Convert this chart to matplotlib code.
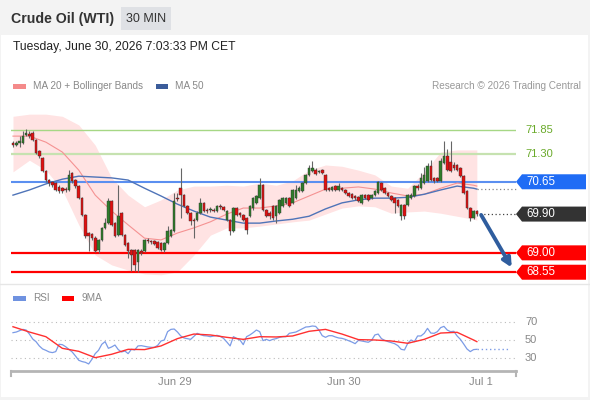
# Crude Oil (WTI) 30 min chart with Bollinger bands and RSI
import numpy as np
import matplotlib.pyplot as plt
import matplotlib.transforms as mtransforms
from matplotlib.patches import Rectangle, Polygon
from matplotlib.lines import Line2D

plt.rcParams['font.family'] = ['Liberation Sans', 'DejaVu Sans']

# candles (30 min)
opens = [71.55, 71.50, 71.55, 71.55, 71.73, 71.76, 71.78, 71.62, 71.36, 71.20,
         70.90, 70.69, 70.64, 70.62, 70.53, 70.50, 70.48, 70.46, 70.85, 70.69,
         70.55, 70.27, 69.88, 69.46, 69.44, 69.34, 69.07, 69.30, 69.58, 69.69,
         70.20, 69.69, 69.41, 69.92, 69.41, 69.23, 69.07, 69.07, 68.79, 69.04,
         69.04, 69.30, 69.27, 69.27, 69.25, 69.23, 69.07, 69.23, 69.39, 69.51,
         70.27, 70.50, 70.34, 70.09, 69.92, 69.76, 69.76, 69.92, 70.16, 69.99,
         69.99, 69.99, 69.97, 70.09, 70.07, 69.76, 69.76, 69.51, 70.04, 69.92,
         69.88, 69.81, 69.85, 70.04, 70.16, 70.27, 70.57, 69.99, 69.92, 70.09,
         69.85, 69.92, 70.09, 70.16, 70.27, 70.16, 70.27, 70.43, 70.43, 70.62,
         70.81, 70.90, 70.92, 70.88, 70.92, 70.81, 70.50, 70.46, 70.55, 70.46,
         70.50, 70.46, 70.39, 70.36, 70.32, 70.29, 70.16, 70.34, 70.34, 70.27,
         70.34, 70.39, 70.62, 70.50, 70.39, 70.32, 70.27, 70.23, 69.85, 70.11,
         70.11, 70.27, 70.32, 70.55, 70.50, 70.62, 70.67, 71.01, 70.74, 70.74,
         70.67, 71.08, 71.25, 71.11, 71.04, 71.04, 70.97, 70.78, 70.43, 70.04,
         69.81, 69.97]
highs = [71.59, 71.59, 71.71, 71.83, 71.87, 71.83, 71.83, 71.64, 71.39, 71.22,
         70.92, 70.71, 70.67, 70.64, 70.57, 70.53, 70.53, 70.92, 70.88, 70.71,
         70.57, 70.29, 69.90, 69.48, 69.46, 69.39, 69.32, 69.60, 69.81, 70.27,
         70.23, 69.72, 70.57, 69.95, 69.44, 69.25, 69.09, 69.09, 69.09, 69.09,
         69.32, 69.34, 69.30, 69.30, 69.27, 69.25, 69.25, 69.62, 69.55, 70.39,
         70.39, 70.97, 70.36, 70.11, 69.95, 69.81, 69.97, 70.27, 70.18, 70.04,
         70.07, 70.04, 70.11, 70.13, 70.09, 69.99, 69.78, 70.07, 70.07, 69.95,
         69.90, 69.83, 70.11, 70.29, 70.34, 70.74, 70.60, 70.02, 69.97, 70.11,
         70.11, 70.25, 70.29, 70.29, 70.29, 70.48, 70.57, 70.55, 70.64, 70.83,
         71.04, 71.13, 70.97, 70.92, 70.94, 70.83, 70.53, 70.55, 70.57, 70.62,
         70.53, 70.48, 70.41, 70.39, 70.34, 70.32, 70.36, 70.36, 70.36, 70.36,
         70.46, 70.67, 70.64, 70.53, 70.41, 70.34, 70.29, 70.25, 70.13, 70.13,
         70.36, 70.39, 70.57, 70.60, 70.85, 70.99, 71.08, 71.15, 70.76, 70.76,
         71.20, 71.59, 71.41, 71.59, 71.11, 71.06, 70.99, 70.81, 70.46, 70.07,
         69.99, 69.99]
lows = [71.46, 71.48, 71.46, 71.52, 71.71, 71.66, 71.59, 71.29, 71.20, 70.88,
        70.64, 70.55, 70.53, 70.43, 70.39, 70.39, 70.41, 70.43, 70.62, 70.50,
        70.25, 69.85, 69.34, 69.04, 69.30, 69.02, 69.00, 69.27, 69.55, 69.67,
        69.62, 69.37, 69.39, 69.39, 69.16, 68.88, 68.58, 68.58, 68.56, 68.95,
        69.02, 69.23, 69.21, 69.18, 69.09, 69.04, 69.02, 69.21, 69.37, 69.48,
        70.20, 69.81, 70.07, 69.90, 69.65, 69.34, 69.74, 69.90, 69.95, 69.92,
        69.95, 69.95, 69.95, 70.02, 69.97, 69.74, 69.41, 69.48, 69.85, 69.83,
        69.74, 69.44, 69.83, 69.99, 70.13, 70.25, 69.97, 69.83, 69.78, 69.76,
        69.69, 69.90, 70.07, 70.13, 70.07, 70.13, 70.25, 70.41, 70.41, 70.60,
        70.78, 70.88, 70.81, 70.85, 70.83, 70.43, 70.43, 70.43, 70.43, 70.43,
        70.43, 70.36, 70.29, 70.25, 70.23, 70.18, 70.13, 70.25, 70.20, 70.25,
        70.32, 70.36, 70.43, 70.36, 70.29, 70.20, 69.92, 70.07, 69.76, 69.78,
        70.09, 70.25, 70.29, 70.46, 70.48, 70.60, 70.64, 70.67, 70.62, 70.64,
        70.64, 71.06, 70.90, 70.88, 70.92, 70.90, 70.76, 70.36, 70.02, 69.74,
        69.78, 69.85]
closes = [71.50, 71.55, 71.59, 71.71, 71.78, 71.71, 71.62, 71.32, 71.25, 70.90,
          70.69, 70.62, 70.57, 70.46, 70.43, 70.43, 70.46, 70.81, 70.67, 70.55,
          70.27, 69.88, 69.39, 69.39, 69.34, 69.04, 69.30, 69.58, 69.69, 70.20,
          69.65, 69.39, 69.85, 69.41, 69.18, 69.04, 68.95, 68.72, 69.07, 69.00,
          69.30, 69.27, 69.25, 69.21, 69.11, 69.07, 69.23, 69.51, 69.53, 70.20,
          70.25, 70.34, 70.09, 69.92, 69.74, 69.74, 69.92, 70.16, 69.97, 69.97,
          70.02, 69.98, 70.09, 70.07, 69.99, 69.97, 69.51, 70.04, 69.88, 69.88,
          69.76, 69.53, 70.09, 70.27, 70.32, 70.57, 69.99, 69.85, 69.85, 69.81,
          70.09, 70.23, 70.27, 70.27, 70.09, 70.46, 70.46, 70.50, 70.62, 70.81,
          70.97, 70.97, 70.83, 70.90, 70.85, 70.46, 70.46, 70.53, 70.46, 70.55,
          70.46, 70.39, 70.32, 70.27, 70.27, 70.20, 70.34, 70.27, 70.23, 70.34,
          70.43, 70.64, 70.46, 70.39, 70.32, 70.23, 70.16, 70.09, 70.11, 69.85,
          70.34, 70.34, 70.55, 70.50, 70.74, 70.81, 71.01, 70.69, 70.67, 70.67,
          71.13, 71.25, 70.92, 70.90, 70.97, 70.92, 70.78, 70.39, 70.04, 69.81,
          69.97, 69.90]

# indicators, one value every 5 candles
ind_idx = [0, 5, 10, 15, 20, 25, 30, 35, 40, 45, 50, 55, 60, 65, 70, 75, 80, 85,
           90, 95, 100, 105, 110, 115, 120, 125, 130, 135, 140, 141]
ma20 = [71.71, 71.71, 71.57, 71.34, 70.92, 70.34, 69.97, 69.65, 69.34, 69.30,
        69.46, 69.58, 69.72, 69.90, 70.04, 70.04, 70.09, 70.16, 70.32, 70.48,
        70.50, 70.53, 70.48, 70.39, 70.32, 70.36, 70.50, 70.62, 70.57, 70.55]
bb_upper = [72.17, 72.22, 72.22, 72.17, 71.97, 71.50, 70.74, 70.34, 70.07, 70.23,
            70.46, 70.55, 70.55, 70.57, 70.55, 70.62, 70.57, 70.67, 70.92, 71.04,
            71.01, 70.92, 70.81, 70.55, 70.50, 70.88, 71.34, 71.39, 71.39, 71.39]
bb_lower = [70.88, 71.15, 70.92, 70.46, 69.65, 68.95, 68.72, 68.60, 68.51, 68.49,
            68.56, 68.95, 69.41, 69.58, 69.58, 69.62, 69.67, 69.72, 69.76, 69.90,
            70.04, 70.09, 70.07, 69.92, 69.95, 69.97, 69.92, 69.85, 69.78, 69.76]
ma50 = [70.34, 70.46, 70.60, 70.71, 70.78, 70.76, 70.74, 70.69, 70.50, 70.32,
        70.13, 69.97, 69.83, 69.76, 69.69, 69.69, 69.74, 69.78, 69.85, 70.02,
        70.16, 70.23, 70.27, 70.27, 70.29, 70.36, 70.46, 70.55, 70.50, 70.48]

# RSI per candle
rsi = [58.0, 58.7, 60.2, 61.6, 60.9, 56.5, 51.1, 48.2, 43.5, 40.2,
       38.7, 36.9, 36.2, 37.3, 45.3, 44.9, 42.7, 39.8, 36.9, 32.5,
       27.8, 26.4, 25.6, 23.8, 28.9, 35.1, 38.7, 45.3, 48.2, 40.9,
       42.4, 44.5, 39.5, 36.9, 38.0, 35.1, 39.8, 39.1, 43.5, 43.8,
       43.1, 42.4, 42.0, 42.0, 44.2, 48.9, 50.0, 59.1, 61.6, 62.0,
       58.7, 54.4, 52.2, 51.5, 50.7, 54.0, 57.3, 55.8, 54.7, 54.4,
       53.6, 54.4, 55.1, 54.0, 51.8, 47.8, 43.5, 53.6, 51.8, 50.0,
       44.9, 53.6, 55.5, 58.0, 60.9, 59.1, 49.3, 50.7, 49.3, 50.7,
       51.5, 52.9, 53.6, 53.6, 57.3, 58.0, 58.7, 60.5, 62.4, 64.2,
       64.5, 65.3, 64.9, 60.9, 54.7, 52.9, 54.7, 54.7, 53.3, 52.2,
       51.8, 50.7, 49.3, 47.8, 46.0, 49.6, 48.9, 48.2, 47.5, 49.6,
       55.5, 56.5, 51.5, 49.6, 48.2, 47.1, 46.0, 43.8, 39.8, 39.1,
       46.4, 50.0, 48.2, 54.4, 54.4, 57.3, 62.7, 57.6, 57.3, 59.1,
       63.5, 64.9, 60.9, 59.1, 59.5, 54.4, 50.7, 45.6, 40.2, 37.3,
       39.5, 39.8]
rsi_ma9 = [64.5, 58.7, 53.6, 40.9, 37.6, 30.7, 34.4, 39.8, 39.5, 43.5,
           51.5, 56.5, 55.5, 52.9, 50.7, 53.6, 53.3, 54.4, 59.5, 61.6,
           56.5, 50.4, 50.0, 48.9, 46.4, 50.7, 57.6, 58.4, 50.0, 48.2]

# levels
resist = [71.85, 71.30]
pivot = 70.65
supports = [69.00, 68.55]
last_price = 69.90
day_ticks = [49.2, 100.6, 142.2]
day_labels = ['Jun 29', 'Jun 30', 'Jul 1']

W, H = 590, 400


def fx(px):
    return px / W


def fy(py):
    return 1 - py / H


fig = plt.figure(figsize=(W / 100, H / 100), dpi=100)
fig.patch.set_facecolor('#f3f3f3')
fig.add_artist(Rectangle((fx(1), fy(397)), 587 / W, 362 / H, transform=fig.transFigure,
                         facecolor='white', edgecolor='none', zorder=0))
fig.add_artist(Line2D([0, 1], [fy(284), fy(284)], color='#e6e6e6', lw=1))

# header
fig.text(fx(11), fy(19), 'Crude Oil (WTI)', fontsize=10.2, weight='bold', color='#333333', va='center')
fig.add_artist(Rectangle((fx(121), fy(30)), 50 / W, 23 / H, transform=fig.transFigure,
                         facecolor='#dfe1e5', edgecolor='none'))
fig.text(fx(146), fy(19), '30 MIN', fontsize=9, color='#333333', ha='center', va='center')
fig.text(fx(13), fy(47), 'Tuesday, June 30, 2026 7:03:33 PM CET', fontsize=8.7, color='#222222', va='center')

# legend row
fig.add_artist(Rectangle((fx(13), fy(88.5)), 13 / W, 5 / H, transform=fig.transFigure,
                         facecolor='#f48a8a', edgecolor='none'))
fig.text(fx(33), fy(86), 'MA 20 + Bollinger Bands', fontsize=7.2, color='#888888', va='center')
fig.add_artist(Rectangle((fx(156), fy(88.5)), 12 / W, 5 / H, transform=fig.transFigure,
                         facecolor='#3b5c9a', edgecolor='none'))
fig.text(fx(175), fy(86), 'MA 50', fontsize=7.2, color='#888888', va='center')
fig.text(fx(581), fy(86), 'Research \u00a9 2026 Trading Central', fontsize=7.2, color='#999999',
         ha='right', va='center')

# price panel
ax = fig.add_axes([fx(11), fy(283), 505 / W, 171 / H])
ax.set_xlim(-0.6, 152.9)
ax.set_ylim(68.30, 72.27)
ax.axis('off')

n = len(closes)
idx = np.arange(n)
o = np.array(opens)
c = np.array(closes)

ax.fill_between(ind_idx, bb_lower, bb_upper, color='#ffe3e3', lw=0, zorder=1)
ax.axhline(resist[0], color='#a6d785', lw=1, zorder=2)
ax.axhline(resist[1], color='#c6e2b0', lw=1.6, zorder=2)
ax.axhline(pivot, color='#5b8ff0', lw=1.5, zorder=2)
for s in supports:
    ax.axhline(s, color='#ff0000', lw=1.6, zorder=2)

ax.plot(ind_idx, ma20, color='#f59292', lw=0.8, zorder=2)
ax.plot(ind_idx, ma50, color='#4f74b8', lw=1, zorder=2)

colors = np.where(c >= o, '#2f7d2a', '#e01010')
ax.vlines(idx, lows, highs, color='#666666', lw=0.8, zorder=3)
ax.bar(idx, np.maximum(np.abs(c - o), 0.012), bottom=np.minimum(o, c), width=0.78,
       color=colors, edgecolor='#333333', linewidth=0.3, zorder=4)

# dotted extensions to the labels
ax.plot([n - 1, 152.9], [ma50[-1], ma50[-1]], color='#888888', ls=(0, (1, 2)), lw=0.9, clip_on=False)
ax.plot([n, 152.9], [last_price, last_price], color='#444444', ls=(0, (1, 2)), lw=0.9, clip_on=False)

# forecast arrow
ax.annotate('', xy=(151.6, 68.66), xytext=(n + 0.3, last_price - 0.02),
            arrowprops=dict(arrowstyle='-|>', color='#2f5d9e', lw=2.8, mutation_scale=13,
                            shrinkA=0, shrinkB=0), annotation_clip=False)

# right side labels
tr = mtransforms.blended_transform_factory(fig.transFigure, ax.transData)
px_per_unit = 171 / (72.27 - 68.30)
hh = 7.5 / px_per_unit
for v in resist:
    fig.text(fx(525), v, f'{v:.2f}', transform=tr, fontsize=8, color='#6aaa2a', va='center')
tags = [(pivot, '#1f6cf5'), (last_price, '#333333'), (supports[0], '#ff0000'), (supports[1], '#ff0000')]
for v, col in tags:
    pts = [(fx(516), v), (fx(522), v + hh), (fx(586), v + hh), (fx(586), v - hh), (fx(522), v - hh)]
    fig.add_artist(Polygon(pts, closed=True, transform=tr, facecolor=col, edgecolor='none'))
    fig.text(fx(526), v, f'{v:.2f}', transform=tr, fontsize=8.3, color='white', va='center')

# RSI panel
fig.add_artist(Rectangle((fx(13), fy(300.5)), 13 / W, 5 / H, transform=fig.transFigure,
                         facecolor='#6f92e0', edgecolor='none'))
fig.text(fx(33), fy(298), 'RSI', fontsize=7.2, color='#888888', va='center')
fig.add_artist(Rectangle((fx(62), fy(300.5)), 12 / W, 5 / H, transform=fig.transFigure,
                         facecolor='#ff0000', edgecolor='none'))
fig.text(fx(81), fy(298), '9MA', fontsize=7.2, color='#888888', va='center')

rax = fig.add_axes([fx(11), fy(371), 505 / W, 59 / H])
rax.set_xlim(-0.6, 152.9)
rax.set_ylim(16.1, 80.6)
rax.set_facecolor('none')
for sp in ['top', 'left', 'right']:
    rax.spines[sp].set_visible(False)
rax.spines['bottom'].set_color('#b5b5b5')
rax.spines['bottom'].set_linewidth(2)
rax.set_yticks([])
rax.set_xticks(day_ticks)
rax.set_xticklabels(day_labels)
rax.tick_params(axis='x', length=0, pad=4, labelsize=8, labelcolor='#888888')

rtr = mtransforms.blended_transform_factory(fig.transFigure, rax.transData)
for lv in [70, 50, 30]:
    rax.axhline(lv, color='#bbbbbb', ls=(0, (1, 3)), lw=0.8)
    fig.text(fx(525), lv, str(lv), transform=rtr, fontsize=8, color='#888888', va='center')

rax.plot(idx, rsi, color='#7b9be6', lw=0.9)
rax.plot(ind_idx, rsi_ma9, color='#ff3030', lw=1)
rax.plot([n - 1, 150.5], [rsi[-1], rsi[-1]], color='#7b9be6', ls=(0, (1, 2)), lw=1)

# little end ticks of the time axis
for xe in [0, 1]:
    rax.plot([xe, xe], [0, -0.08], transform=rax.transAxes, color='#b5b5b5', lw=1.5, clip_on=False)

fig.savefig('out.png', dpi=100)
